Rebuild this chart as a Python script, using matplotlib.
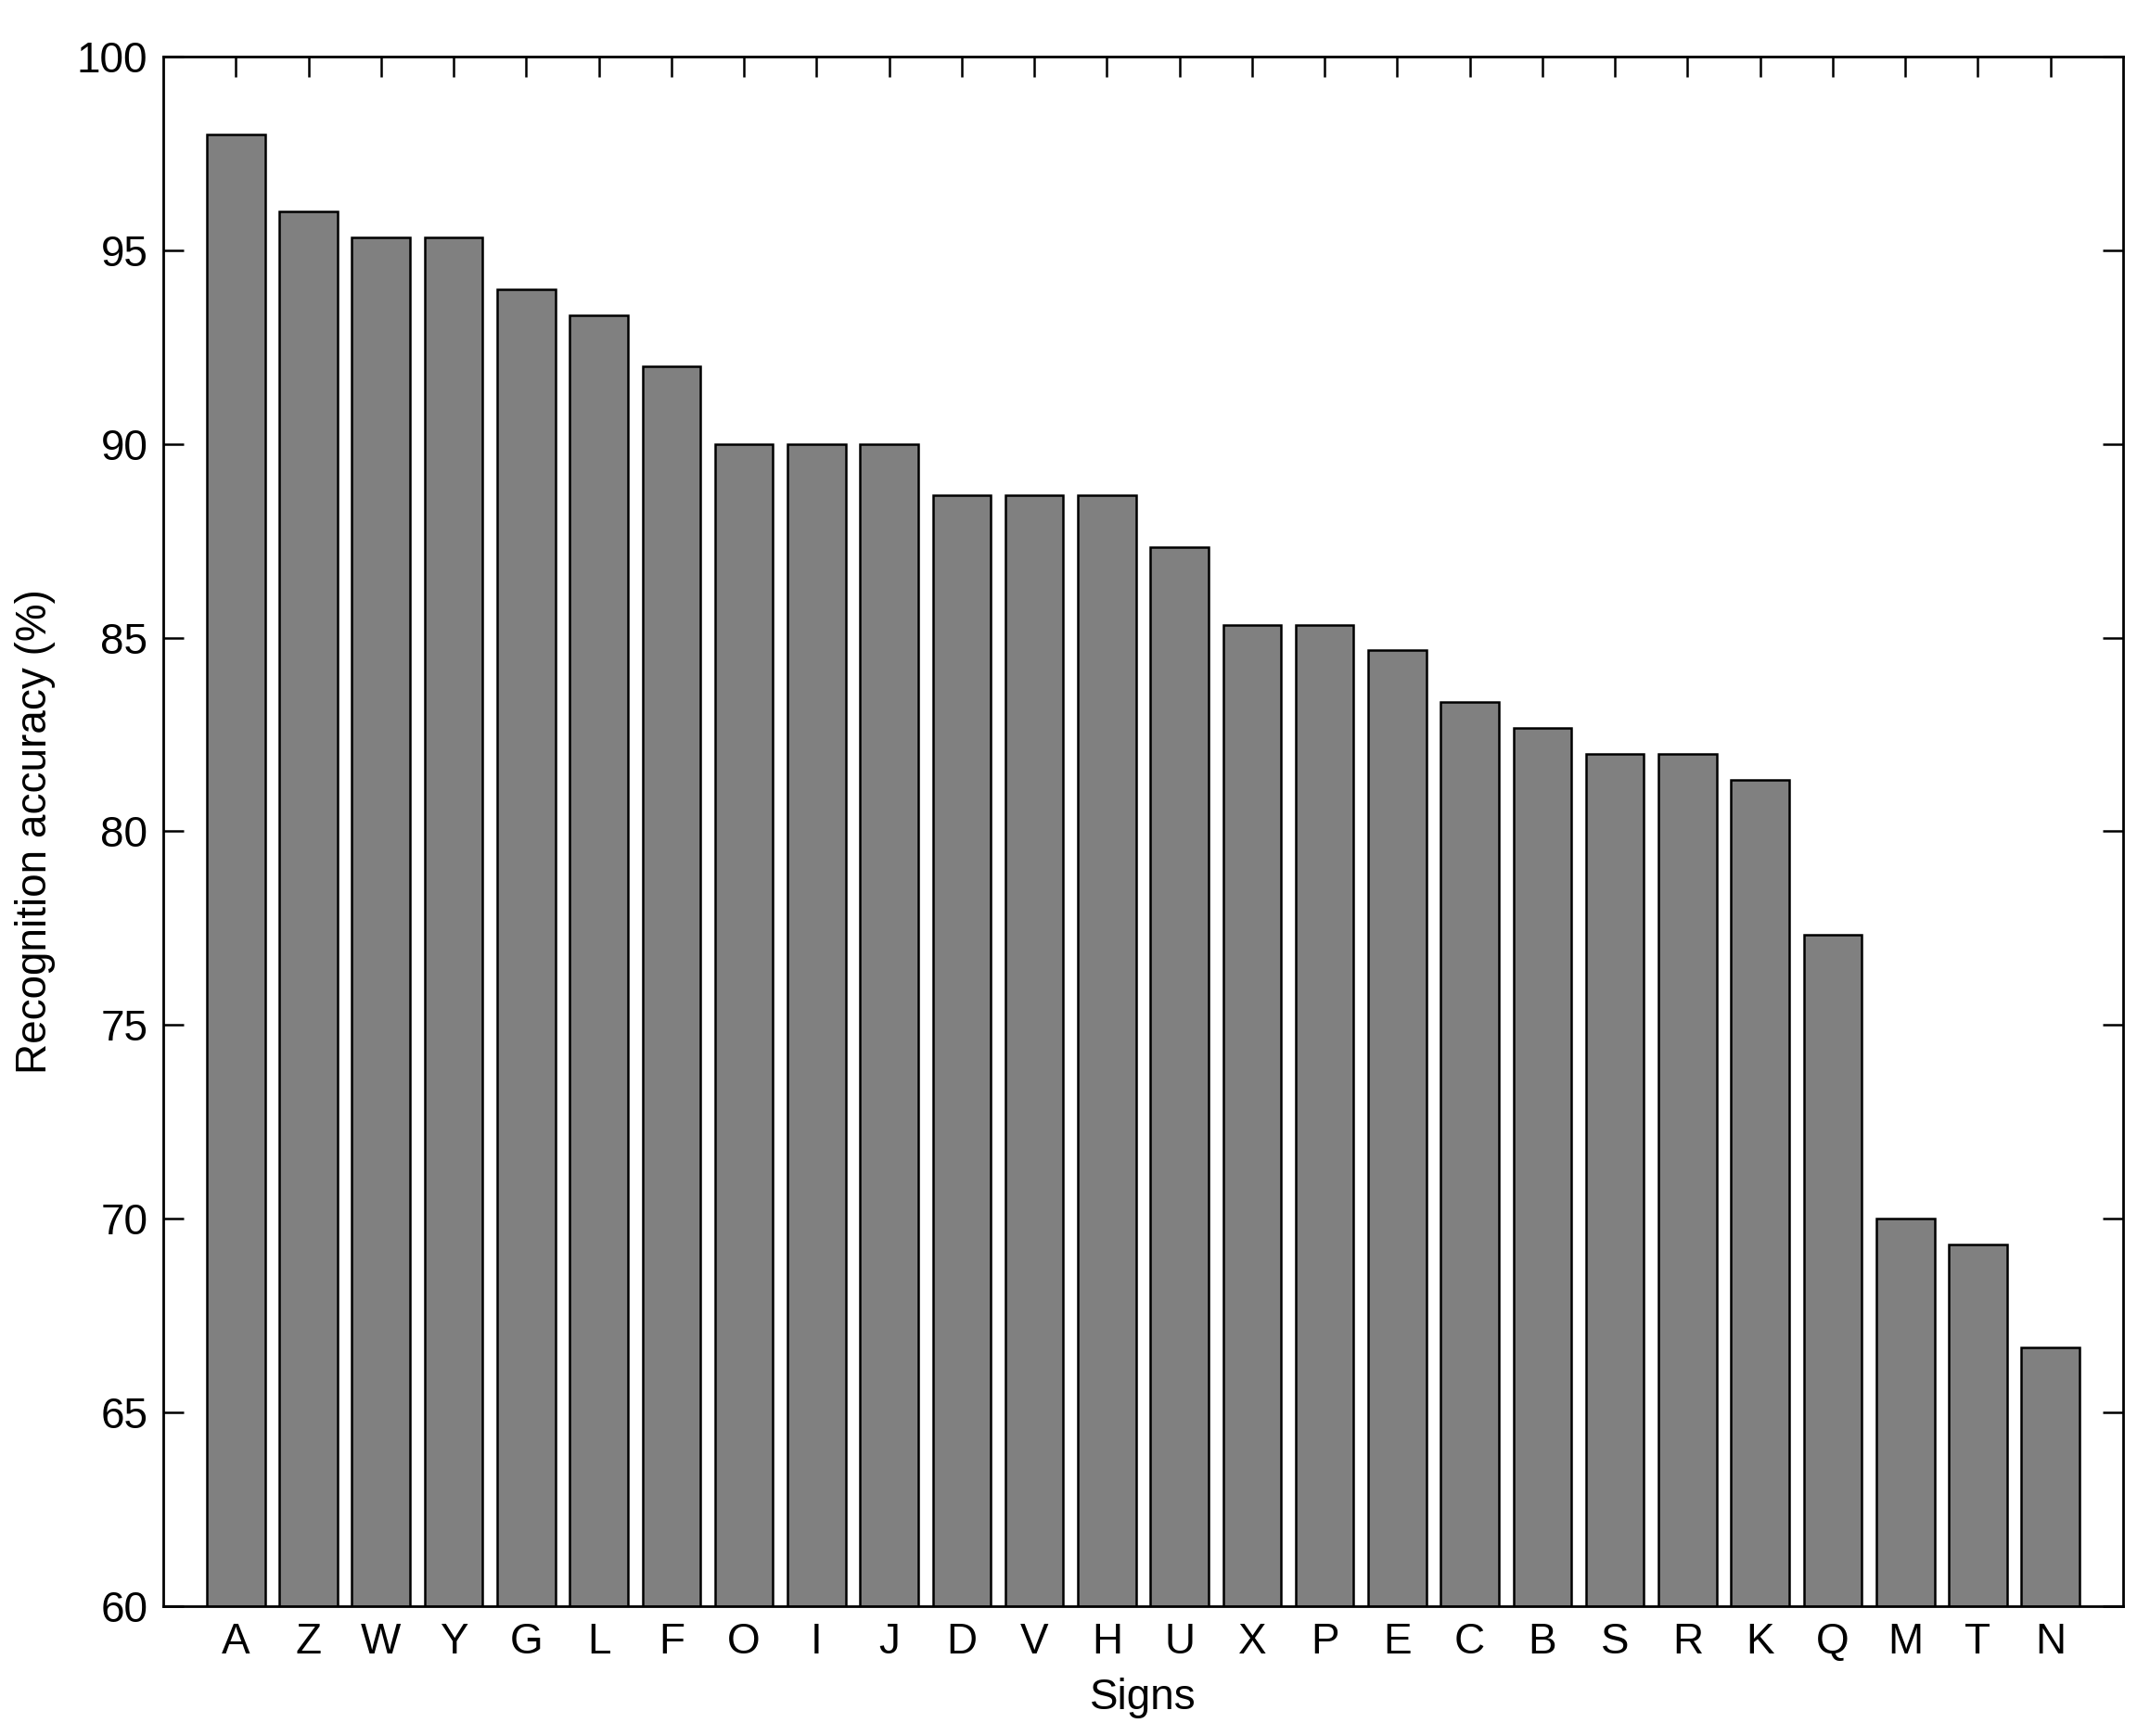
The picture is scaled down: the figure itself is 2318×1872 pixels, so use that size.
import numpy as np
import matplotlib.pyplot as plt

plt.rcParams['font.family'] = ['Liberation Sans', 'DejaVu Sans']

# 数据
signs = ["A", "Z", "W", "Y", "G", "L", "F", "O", "I", "J", "D", "V", "H",
         "U", "X", "P", "E", "C", "B", "S", "R", "K", "Q", "M", "T", "N"]
accuracy = [98.0, 96.0, 95.33, 95.33, 94.0, 93.33, 92.0, 90.0, 90.0, 90.0,
            88.67, 88.67, 88.67, 87.33, 85.33, 85.33, 84.67, 83.33, 82.67,
            82.0, 82.0, 81.33, 77.33, 70.0, 69.33, 66.67]
yticks = [60, 65, 70, 75, 80, 85, 90, 95, 100]

DPI = 200
fig = plt.figure(figsize=(2318 / DPI, 1872 / DPI), dpi=DPI)
ax = fig.add_axes([176 / 2318, 1 - 1732 / 1872, (2289 - 176) / 2318, (1732 - 61) / 1872])

x = np.arange(1, len(signs) + 1)
ax.bar(x, accuracy, width=0.8, color="#808080", edgecolor="black", linewidth=0.9, zorder=2)

ax.set_xlim(0, len(signs) + 1)
ax.set_ylim(60, 100)
ax.set_xticks(x)
ax.set_xticklabels(signs)
ax.set_yticks(yticks)
ax.set_axisbelow(True)

ax.tick_params(direction="in", length=7.9, width=0.9, labelsize=16.5,
               top=True, right=True, pad=6)
for s in ax.spines.values():
    s.set_linewidth(1.0)
    s.set_zorder(3)

ax.set_xlabel("Signs", fontsize=16.5)
ax.set_ylabel("Recognition accuracy (%)", fontsize=16.5)
ax.xaxis.set_label_coords(0.5, -0.046)
ax.yaxis.set_label_coords(-0.055, 0.5)

fig.savefig("out.png", dpi=DPI)
